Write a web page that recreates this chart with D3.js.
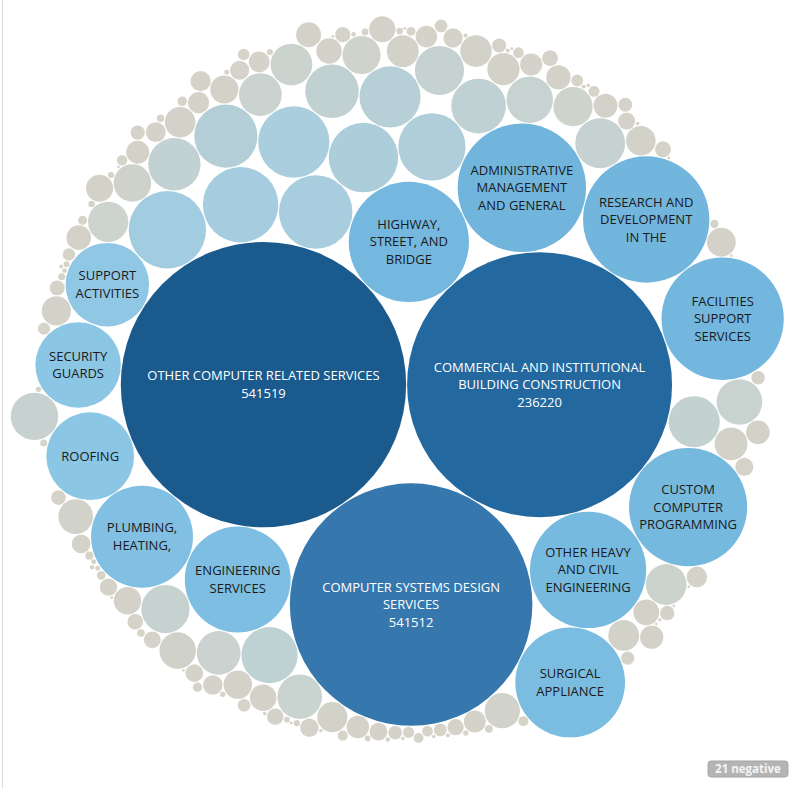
<!DOCTYPE html>
<html>
<head>
<meta charset="utf-8">
<script src="https://cdn.jsdelivr.net/npm/d3@7"></script>
<style>
  body { margin: 0; background: #fff; }
  text { font-family: "Open Sans", sans-serif; }
</style>
</head>
<body>
<svg id="chart" width="800" height="788"></svg>
<script>
"use strict";

// bubbles in placement order; unlabelled ones have no lines
const labelLines = [
  ["OTHER COMPUTER RELATED SERVICES", "541519"],
  ["COMMERCIAL AND INSTITUTIONAL", "BUILDING CONSTRUCTION", "236220"],
  ["COMPUTER SYSTEMS DESIGN", "SERVICES", "541512"],
  ["HIGHWAY,", "STREET, AND", "BRIDGE"],
  [],
  ["ADMINISTRATIVE", "MANAGEMENT", "AND GENERAL"],
  ["ENGINEERING", "SERVICES"],
  ["OTHER HEAVY", "AND CIVIL", "ENGINEERING"],
  [],
  [],
  [],
  ["RESEARCH AND", "DEVELOPMENT", "IN THE"],
  [],
  ["PLUMBING,", "HEATING,"],
  [],
  [],
  ["CUSTOM", "COMPUTER", "PROGRAMMING"],
  [],
  [],
  [],
  ["SURGICAL", "APPLIANCE"],
  ["SUPPORT", "ACTIVITIES"],
  ["FACILITIES", "SUPPORT", "SERVICES"],
  [],
  ["ROOFING"],
  [],
  [],
  [],
  [],
  ["SECURITY", "GUARDS"]
];
const labelValues = [19600, 16900, 14160, 3480, 1300, 3970, 2700, 3250, 1370, 1160, 1090, 3840,
  1440, 2500, 1225, 960, 3360, 760, 900, 720, 2900, 1680, 3600, 690, 1850, 660, 630, 600, 580, 1760];

// remaining unlabelled bubbles, by tier
const greyValues = [560, 540, 520, 500, 480, 460,
  440, 420, 400, 390, 370, 350, 340, 320, 300, 290];
const beigeValues = [260, 250, 245, 240, 230, 225, 220, 210, 205, 200, 195, 190, 182, 176, 170, 165,
  160, 155, 150, 146, 142, 138, 134, 130, 126, 122, 118, 115, 112, 108, 105, 102, 99, 96, 93, 90,
  88, 85, 82, 80, 77, 75, 72, 70, 68, 66, 64, 62, 60, 58, 56, 54, 52, 50, 49, 48, 46, 45, 44, 42, 40,
  39, 38, 37];
const tinyValues = [36, 34, 32, 30, 29, 28, 27, 26, 25, 24, 23, 22, 21, 20, 19, 18, 17, 16, 15, 14,
  13, 12, 12, 11, 11, 10, 10, 9, 9, 8, 8, 8, 7, 7, 7, 6, 6, 6, 5, 5, 5, 5, 4, 4, 4, 4, 4, 3, 3, 3,
  3, 3, 3, 3, 2, 2, 2, 2, 2, 2, 2, 2, 2, 2, 2, 2];

const negativeCount = 21;

const svg = d3.select('#chart');
const R = 392;

let leaves = labelValues.map((v, i) => ({ value: v, lines: labelLines[i] }))
  .concat(greyValues.concat(beigeValues, tinyValues).map(v => ({ value: v, lines: [] })));

let root = d3.hierarchy({ children: leaves })
  .sum(d => d.value || 0);

d3.pack().size([2 * R, 2 * R]).padding(1)(root);

const color = d3.scaleLinear()
  .domain([0, 250, 450, 750, 1000, 1450, 1700, 2600, 3500, 14160, 16900, 19600])
  .range(['#d6d3c9', '#d3d2c8', '#cad3cf', '#bfd1d3', '#b2ced8', '#a2cde1',
    '#8dc7e5', '#7fbfe2', '#74b8df', '#3677ae', '#23689e', '#1b5a8c'])
  .clamp(true);

// left frame line
svg.append('line')
  .attr('x1', 2.5).attr('x2', 2.5).attr('y1', 0).attr('y2', 788)
  .attr('stroke', '#dcdcdc');

let g = svg.append('g').attr('transform', `translate(${401 - R},${392 - R})`);

let node = g.selectAll('g.bubble')
  .data(root.leaves())
  .enter()
  .append('g')
  .classed('bubble', true)
  .attr('transform', d => `translate(${d.x},${d.y})`);

node.append('circle')
  .attr('r', d => d.r)
  .attr('fill', d => color(d.data.value));

const lineH = 17.5;
node.filter(d => d.data.lines.length)
  .append('text')
  .attr('text-anchor', 'middle')
  .attr('font-size', 13)
  .attr('fill', d => d.data.value > 10000 ? '#ffffff' : '#1a1a1a')
  .selectAll('tspan')
  .data(d => d.data.lines.map((t, i, a) => ({ t: t, dy: (i - (a.length - 1) / 2) * lineH })))
  .enter()
  .append('tspan')
  .attr('x', 0)
  .attr('y', d => d.dy + 4.5)
  .text(d => d.t);

// negative values badge
let badge = svg.append('g').attr('transform', 'translate(708,761)');
badge.append('rect')
  .attr('width', 80).attr('height', 16).attr('rx', 3)
  .attr('fill', '#b4b4b4').attr('stroke', '#a6a6a6');
badge.append('text')
  .attr('x', 40).attr('y', 12)
  .attr('text-anchor', 'middle')
  .attr('font-size', 11.5)
  .attr('font-weight', 'bold')
  .attr('fill', '#f4f4f4')
  .text(`${negativeCount} negative`);
</script>
</body>
</html>
